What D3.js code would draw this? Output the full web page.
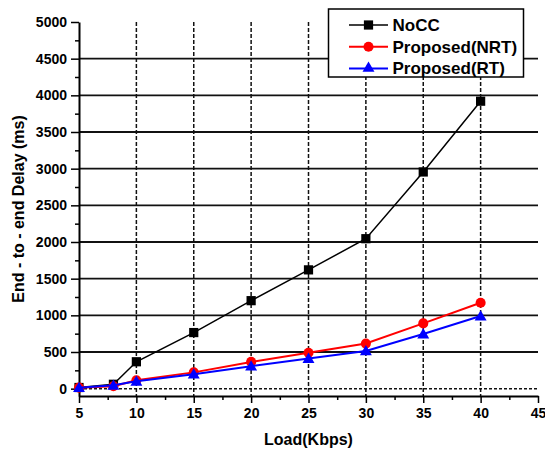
<!DOCTYPE html>
<html>
<head>
<meta charset="utf-8">
<script src="https://cdn.jsdelivr.net/npm/d3@7"></script>
<style>
  html, body { margin: 0; padding: 0; background: #fff; }
  svg { display: block; font-family: "Liberation Sans", Arial, sans-serif; }
</style>
</head>
<body>
<svg id="chart" width="545" height="451"></svg>
<script>
// Offered load (Kbps)
const loads = [5, 8, 10, 15, 20, 25, 30, 35, 40];
// End-to-end delay (ms) per scheme
const noCC        = [16, 60, 367, 765, 1200, 1620, 2045, 2955, 3920];
const proposedNRT = [14, 34, 115, 222, 365, 490, 615, 890, 1172];
const proposedRT  = [14, 46, 100, 198, 307, 412, 515, 745, 990];

const seriesNames = ["NoCC", "Proposed(NRT)", "Proposed(RT)"];
const xTicks = [5, 10, 15, 20, 25, 30, 35, 40, 45];
const yTicks = [0, 500, 1000, 1500, 2000, 2500, 3000, 3500, 4000, 4500, 5000];

const svg = d3.select("#chart");
const x = d3.scaleLinear().domain([5, 45]).range([79, 538]);
const y = d3.scaleLinear().domain([-100, 5000]).range([396, 22]);

const series = [
  { name: seriesNames[0], values: noCC,        color: "#000000", marker: "square",   width: 1.5 },
  { name: seriesNames[1], values: proposedNRT, color: "#ff0000", marker: "circle",   width: 2 },
  { name: seriesNames[2], values: proposedRT,  color: "#0000ff", marker: "triangle", width: 2 }
];

// grid: solid horizontals, dashed line at zero, dashed verticals
const grid = svg.append("g");
grid.selectAll("line.h")
  .data(yTicks.filter(v => v > 0 && v < 5000))
  .join("line")
  .attr("x1", x(5)).attr("x2", x(45))
  .attr("y1", d => y(d)).attr("y2", d => y(d))
  .attr("stroke", "#111").attr("stroke-width", 1.8);
grid.append("line")
  .attr("x1", x(5)).attr("x2", x(45))
  .attr("y1", y(0)).attr("y2", y(0))
  .attr("stroke", "#111").attr("stroke-width", 1.5)
  .attr("stroke-dasharray", "3,2");
grid.selectAll("line.v")
  .data(xTicks.filter(v => v > 5 && v < 45))
  .join("line")
  .attr("x1", d => x(d)).attr("x2", d => x(d))
  .attr("y1", y(5000)).attr("y2", y(-100))
  .attr("stroke", "#111").attr("stroke-width", 1.5)
  .attr("stroke-dasharray", "4,2");

// axes
function styleAxis(g) {
  g.select(".domain").attr("stroke", "#000").attr("stroke-width", 2);
  g.selectAll(".tick line").attr("stroke", "#000").attr("stroke-width", 1.5);
  g.selectAll(".tick text")
    .attr("fill", "#000")
    .style("font-size", "14px")
    .style("font-weight", "bold")
    .style("font-family", "'Liberation Sans', Arial, sans-serif");
}

const xMinor = d3.range(7.5, 45, 5);
const yMinor = d3.range(250, 5000, 500);

svg.append("g")
  .attr("transform", `translate(0,${y(-100)})`)
  .call(d3.axisBottom(x).tickValues(xMinor).tickSize(4).tickSizeOuter(0).tickFormat(""))
  .call(g => { g.select(".domain").remove(); g.selectAll(".tick line").attr("stroke", "#000").attr("stroke-width", 1.5); });
svg.append("g")
  .attr("transform", `translate(${x(5)},0)`)
  .call(d3.axisLeft(y).tickValues(yMinor).tickSize(4).tickSizeOuter(0).tickFormat(""))
  .call(g => { g.select(".domain").remove(); g.selectAll(".tick line").attr("stroke", "#000").attr("stroke-width", 1.5); });

svg.append("g")
  .attr("transform", `translate(0,${y(-100)})`)
  .call(d3.axisBottom(x).tickValues(xTicks).tickSize(7).tickSizeOuter(0).tickPadding(5).tickFormat(d3.format("d")))
  .call(styleAxis);
svg.append("g")
  .attr("transform", `translate(${x(5)},0)`)
  .call(d3.axisLeft(y).tickValues(yTicks).tickSize(8).tickSizeOuter(0).tickPadding(4).tickFormat(d3.format("d")))
  .call(styleAxis);

// markers
const symbolFor = { square: d3.symbolSquare, circle: d3.symbolCircle, triangle: d3.symbolTriangle };
const sizeFor = { square: 85, circle: 80, triangle: 62 };
function markerPath(kind) {
  return d3.symbol().type(symbolFor[kind]).size(sizeFor[kind])();
}

const line = d3.line().x(d => x(d[0])).y(d => y(d[1]));
series.forEach(s => {
  const pts = loads.map((l, i) => [l, s.values[i]]);
  const g = svg.append("g");
  g.append("path")
    .attr("d", line(pts))
    .attr("fill", "none")
    .attr("stroke", s.color)
    .attr("stroke-width", s.width);
  g.selectAll("path.m")
    .data(pts)
    .join("path")
    .attr("transform", d => `translate(${x(d[0])},${y(d[1]) + (s.marker === "triangle" ? 1 : 0)})`)
    .attr("d", markerPath(s.marker))
    .attr("fill", s.color);
});

// axis titles
svg.append("text")
  .attr("x", (x(5) + x(45)) / 2)
  .attr("y", 445)
  .attr("text-anchor", "middle")
  .style("font-size", "16px")
  .style("font-weight", "bold")
  .text("Load(Kbps)");
svg.append("text")
  .attr("transform", `translate(24,${(y(5000) + y(-100)) / 2}) rotate(-90)`)
  .attr("text-anchor", "middle")
  .style("font-size", "16px")
  .style("font-weight", "bold")
  .text("End - to - end Delay (ms)");

// legend
const legend = svg.append("g");
legend.append("rect")
  .attr("x", 328.5).attr("y", 9)
  .attr("width", 195).attr("height", 68)
  .attr("fill", "#fff")
  .attr("stroke", "#000").attr("stroke-width", 1.5);
series.forEach((s, i) => {
  const cy = 25 + i * 21.7;
  legend.append("line")
    .attr("x1", 349).attr("x2", 388)
    .attr("y1", cy).attr("y2", cy)
    .attr("stroke", s.color).attr("stroke-width", s.width);
  legend.append("path")
    .attr("transform", `translate(368.5,${cy})`)
    .attr("d", markerPath(s.marker))
    .attr("fill", s.color);
  legend.append("text")
    .attr("x", 392.5).attr("y", cy + 6)
    .style("font-size", "17px")
    .style("font-weight", "bold")
    .text(s.name);
});
</script>
</body>
</html>
